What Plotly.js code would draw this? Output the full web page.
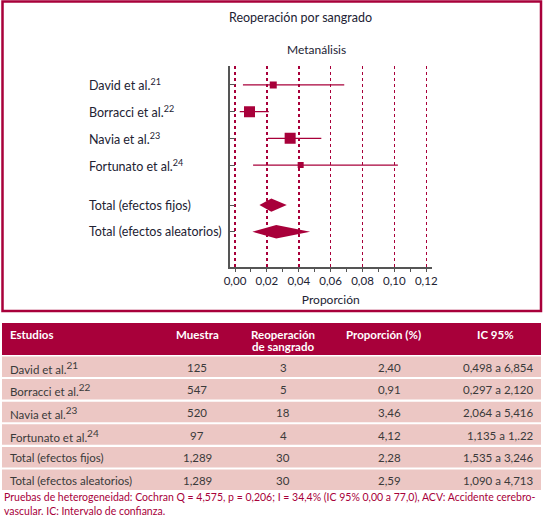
<!DOCTYPE html>
<html>
<head>
<meta charset="utf-8">
<script src="https://cdn.plot.ly/plotly-3.0.1.min.js"></script>
<style>
  html, body { margin: 0; padding: 0; background: #ffffff; }
  #chart { width: 546px; height: 523px; }
</style>
</head>
<body>
<div id="chart"></div>
<script>
// Studies and pooled estimates (proportion in %, IC 95% in %)
const studies = ['David et al.', 'Borracci et al.', 'Navia et al.', 'Fortunato et al.', 'Total (efectos fijos)', 'Total (efectos aleatorios)'];
const refs = ['21', '22', '23', '24', '', ''];
const sample = [125, 547, 520, 97, 1289, 1289];
const events = [3, 5, 18, 4, 30, 30];
const proportion = [2.40, 0.91, 3.46, 4.12, 2.28, 2.59];
const ciLow = [0.498, 0.297, 2.064, 1.135, 1.535, 1.090];
const ciHigh = [6.854, 2.120, 5.416, 10.22, 3.246, 4.713];
// IC column as printed in the source table
const ciLabels = ['0,498 a 6,854', '0,297 a 2,120', '2,064 a 5,416', '1,135 a 1,.22', '1,535 a 3,246', '1,090 a 4,713'];
const xTicks = [0, 0.02, 0.04, 0.06, 0.08, 0.10, 0.12];
const headers = [['Estudios'], ['Muestra'], ['Reoperación', 'de sangrado'], ['Proporción (%)'], ['IC 95%']];
const footnote = 'Pruebas de heterogeneidad: Cochran Q = 4,575, p = 0,206; I = 34,4% (IC 95% 0,00 a 77,0), ACV: Accidente cerebro-<br>vascular. IC: Intervalo de confianza.';

// Layout helpers (pixel -> paper)
const W = 546, H = 523;
const px = x => x / W;
const py = y => 1 - y / H;
const CRIMSON = '#a8003a';
const PINK = '#ecc7c4';
const TEXT = '#222233';
const CELL_TEXT = '#3a3a3a';
const FONT = 'Lato, "Open Sans", sans-serif';

const rowPos = [0, 1, 2, 3, 4.5, 5.5];
const nStudies = 4;
const markerSizes = [7, 11, 11, 6];
const diamondHalf = 0.25;

const toProp = v => v / 100;
const fmtNum = v => v.toLocaleString('en-US');
const fmtDec = v => v.toFixed(2).replace('.', ',');
const withRef = (name, r, size) => r ? name + '<sup><span style="font-size:' + size + 'px">' + r + '</span></sup>' : name;

// Study squares with CI whiskers
const studyTrace = {
    type: 'scatter',
    mode: 'markers',
    x: proportion.slice(0, nStudies).map(toProp),
    y: rowPos.slice(0, nStudies),
    marker: { symbol: 'square', size: markerSizes, color: CRIMSON, opacity: 1, line: { width: 0 } },
    error_x: {
        type: 'data',
        symmetric: false,
        array: proportion.slice(0, nStudies).map((p, i) => toProp(ciHigh[i] - p)),
        arrayminus: proportion.slice(0, nStudies).map((p, i) => toProp(p - ciLow[i])),
        width: 0,
        thickness: 1.3,
        color: CRIMSON
    },
    hoverinfo: 'skip',
    showlegend: false
};

// Pooled diamonds
const diamondTraces = [4, 5].map(i => ({
    type: 'scatter',
    mode: 'lines',
    x: [ciLow[i], proportion[i], ciHigh[i], proportion[i], ciLow[i]].map(toProp),
    y: [rowPos[i], rowPos[i] - diamondHalf, rowPos[i], rowPos[i] + diamondHalf, rowPos[i]],
    fill: 'toself',
    fillcolor: CRIMSON,
    line: { width: 0, color: CRIMSON },
    hoverinfo: 'skip',
    showlegend: false
}));

const annotations = [];
const shapes = [];

function paperText(text, x, y, xanchor, size, color, extra) {
    return Object.assign({
        text: text, x: px(x), y: py(y), xref: 'paper', yref: 'paper',
        xanchor: xanchor, yanchor: 'middle', showarrow: false,
        font: { size: size, color: color, family: FONT }
    }, extra || {});
}

// Frame around the forest plot
shapes.push({
    type: 'rect', xref: 'paper', yref: 'paper',
    x0: px(2.5), x1: px(541), y0: py(1.5), y1: py(311),
    line: { color: CRIMSON, width: 2.5 }, fillcolor: 'rgba(0,0,0,0)'
});

annotations.push(
    paperText('Reoperación por sangrado', 300, 17, 'center', 12.5, TEXT),
    paperText('Metanálisis', 316, 49, 'center', 12, TEXT)
);

// Study labels, left aligned
studies.forEach((s, i) => {
    annotations.push({
        text: withRef(s, refs[i], 9), x: px(87), y: rowPos[i], xref: 'paper', yref: 'y',
        xanchor: 'left', yanchor: 'middle', showarrow: false,
        font: { size: 12.5, color: TEXT, family: FONT }
    });
});

// Table header
shapes.push({
    type: 'rect', xref: 'paper', yref: 'paper', layer: 'below',
    x0: px(2), x1: px(541), y0: py(323), y1: py(355),
    line: { width: 0 }, fillcolor: CRIMSON
});
const colX = [8, 197, 283, 383, 495];
headers.forEach((lines, j) => {
    lines.forEach((line, k) => {
        annotations.push(paperText('<b>' + line + '</b>', colX[j], 334 + k * 12,
            j === 0 ? 'left' : 'center', 11.5, '#ffffff'));
    });
});

// Table rows
const rowTop = 356.5, rowPitch = 22.6, rowHeight = 20.5;
studies.forEach((s, i) => {
    const top = rowTop + i * rowPitch;
    const mid = top + rowHeight / 2 + 0.5;
    shapes.push({
        type: 'rect', xref: 'paper', yref: 'paper', layer: 'below',
        x0: px(2), x1: px(541), y0: py(top), y1: py(top + rowHeight),
        line: { width: 0 }, fillcolor: PINK
    });
    annotations.push(
        paperText(withRef(s, refs[i], 10), 8, mid, 'left', 11.5, CELL_TEXT),
        paperText(fmtNum(sample[i]), 197, mid, 'center', 11.5, CELL_TEXT),
        paperText(String(events[i]), 283, mid, 'center', 11.5, CELL_TEXT),
        paperText(fmtDec(proportion[i]), 389, mid, 'center', 11.5, CELL_TEXT),
        paperText(ciLabels[i], 536, mid, 'right', 11.5, CELL_TEXT)
    );
});

annotations.push(paperText(footnote, 2, 504, 'left', 10.5, CRIMSON, { align: 'left' }));

const layout = {
    width: W,
    height: H,
    margin: { t: 0, r: 0, b: 0, l: 0 },
    paper_bgcolor: '#ffffff',
    plot_bgcolor: '#ffffff',
    separators: ',.',
    font: { family: FONT, color: TEXT },
    xaxis: {
        domain: [px(229.5), px(432)],
        range: [-0.00345, 0.1236],
        tickvals: xTicks,
        tickformat: '.2f',
        ticks: 'outside',
        ticklen: 3,
        tickcolor: '#555555',
        tickfont: { size: 11.5, color: TEXT, family: FONT },
        showline: true,
        linecolor: '#555555',
        linewidth: 1.5,
        showgrid: true,
        gridcolor: CRIMSON,
        griddash: 'dot',
        gridwidth: 1.5,
        zeroline: false,
        minor: { dtick: 0.01, tick0: 0, ticks: 'outside', ticklen: 3, tickcolor: '#555555', showgrid: false },
        title: { text: 'Proporción', font: { size: 12, color: TEXT, family: FONT }, standoff: 9 },
        fixedrange: true
    },
    yaxis: {
        domain: [py(267), py(66)],
        range: [6.82, -0.71],
        tickvals: rowPos,
        showticklabels: false,
        ticks: 'inside',
        ticklen: 5,
        tickcolor: '#555555',
        showline: true,
        linecolor: '#555555',
        linewidth: 1.5,
        showgrid: false,
        zeroline: false,
        fixedrange: true
    },
    shapes: shapes,
    annotations: annotations
};

Plotly.newPlot('chart', [studyTrace, ...diamondTraces], layout, { displayModeBar: false, staticPlot: true });
</script>
</body>
</html>
